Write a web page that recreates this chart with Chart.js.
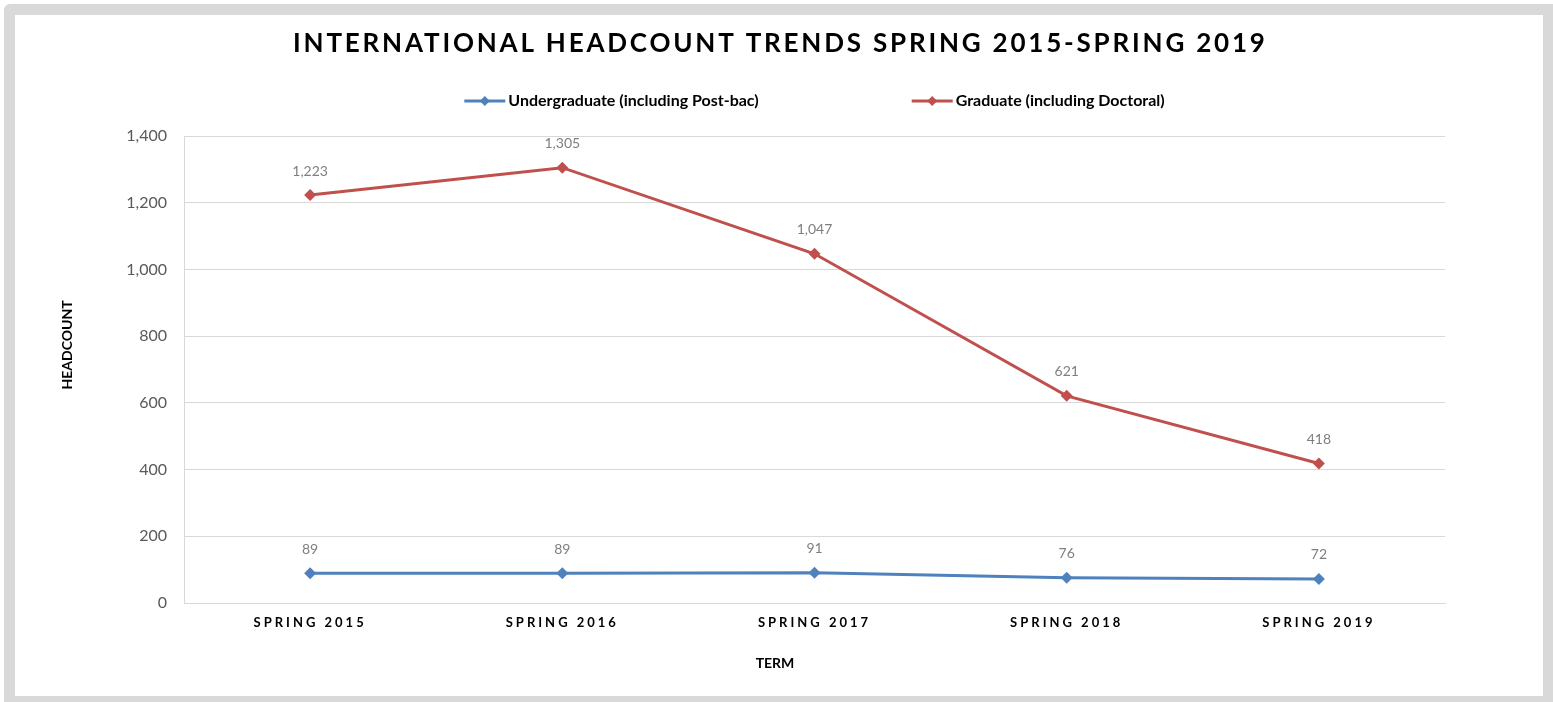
<!DOCTYPE html>
<html>
<head>
<meta charset="utf-8">
<title>International Headcount Trends</title>
<script src="https://cdn.jsdelivr.net/npm/chart.js@4.4.1/dist/chart.umd.min.js"></script>
<style>
  html, body { margin: 0; padding: 0; background: #fff; }
  #frame {
    position: absolute; left: 4px; top: 4px;
    width: 1528px; height: 681px;
    border-style: solid; border-color: #d9d9d9;
    border-width: 11px 10px 6px 11px;
    border-top-left-radius: 6px;
    background: #fff;
  }
  #wrap { position: relative; width: 1528px; height: 681px; }
</style>
</head>
<body>
<div id="frame"><div id="wrap"><canvas id="chart"></canvas></div></div>
<script>
// Data
const terms = ['SPRING 2015', 'SPRING 2016', 'SPRING 2017', 'SPRING 2018', 'SPRING 2019'];
const undergrad = [89, 89, 91, 76, 72];
const graduate = [1223, 1305, 1047, 621, 418];
const seriesNames = ['Undergraduate (including Post-bac)', 'Graduate (including Doctoral)'];
const chartTitle = 'INTERNATIONAL HEADCOUNT TRENDS SPRING 2015-SPRING 2019';
const yTitle = 'HEADCOUNT';
const xTitle = 'TERM';

const BLUE = '#4f81bd';
const RED = '#c0504d';
const FONT = 'Lato, "Open Sans", sans-serif';

function drawDiamond(ctx, x, y, r, color) {
  ctx.beginPath();
  ctx.moveTo(x, y - r);
  ctx.lineTo(x + r, y);
  ctx.lineTo(x, y + r);
  ctx.lineTo(x - r, y);
  ctx.closePath();
  ctx.fillStyle = color;
  ctx.fill();
}

// title, legend, axis titles, value labels, and letter-spaced x ticks
const decorations = {
  id: 'decorations',
  beforeDraw(chart) {
    const x = chart.scales.x;
    if (!x._spaced) {
      const orig = x.drawLabels;
      x.drawLabels = function(area) {
        this.ctx.save();
        this.ctx.letterSpacing = '3px';
        orig.call(this, area);
        this.ctx.restore();
      };
      x._spaced = true;
    }
  },
  afterDraw(chart) {
    const ctx = chart.ctx;
    const area = chart.chartArea;

    // Title
    ctx.save();
    ctx.font = 'bold 26px ' + FONT;
    ctx.letterSpacing = '2.8px';
    ctx.fillStyle = '#000';
    ctx.textAlign = 'center';
    ctx.textBaseline = 'middle';
    ctx.fillText(chartTitle, chart.width / 2 + 1.4, 29);
    ctx.restore();

    // Legend
    ctx.save();
    ctx.font = 'bold 16px ' + FONT;
    ctx.textBaseline = 'middle';
    ctx.textAlign = 'left';
    const lineW = 41, textGap = 3, itemGap = 153, ly = 86;
    const w0 = ctx.measureText(seriesNames[0]).width;
    const w1 = ctx.measureText(seriesNames[1]).width;
    const total = lineW + textGap + w0 + itemGap + lineW + textGap + w1;
    let lx = (area.left + area.right) / 2 - total / 2;
    [[seriesNames[0], BLUE, w0], [seriesNames[1], RED, w1]].forEach(([name, color, w]) => {
      ctx.strokeStyle = color;
      ctx.lineWidth = 3;
      ctx.beginPath();
      ctx.moveTo(lx, ly);
      ctx.lineTo(lx + lineW, ly);
      ctx.stroke();
      drawDiamond(ctx, lx + lineW / 2, ly, 5, color);
      ctx.fillStyle = '#000';
      ctx.fillText(name, lx + lineW + textGap, ly);
      lx += lineW + textGap + w + itemGap;
    });
    ctx.restore();

    // Axis titles
    ctx.save();
    ctx.font = 'bold 14px ' + FONT;
    ctx.fillStyle = '#000';
    ctx.textAlign = 'center';
    ctx.textBaseline = 'middle';
    ctx.fillText(xTitle, 760, 648);
    ctx.translate(52, 330);
    ctx.rotate(-Math.PI / 2);
    ctx.fillText(yTitle, 0, 0);
    ctx.restore();

    // Value labels
    ctx.save();
    ctx.font = '14px ' + FONT;
    ctx.fillStyle = '#7f7f7f';
    ctx.textAlign = 'center';
    ctx.textBaseline = 'middle';
    chart.data.datasets.forEach((ds, i) => {
      chart.getDatasetMeta(i).data.forEach((pt, j) => {
        ctx.fillText(ds.data[j].toLocaleString('en-US'), pt.x, pt.y - 24);
      });
    });
    ctx.restore();
  }
};

new Chart(document.getElementById('chart'), {
  type: 'line',
  data: {
    labels: terms,
    datasets: [
      {
        label: seriesNames[0],
        data: undergrad,
        borderColor: BLUE,
        backgroundColor: BLUE,
        borderWidth: 3,
        pointStyle: 'rectRot',
        pointRadius: 6,
        pointBorderWidth: 0,
        tension: 0
      },
      {
        label: seriesNames[1],
        data: graduate,
        borderColor: RED,
        backgroundColor: RED,
        borderWidth: 3,
        pointStyle: 'rectRot',
        pointRadius: 6,
        pointBorderWidth: 0,
        tension: 0
      }
    ]
  },
  options: {
    responsive: true,
    maintainAspectRatio: false,
    animation: false,
    layout: { padding: { top: 121, right: 98, bottom: 0, left: 0 } },
    plugins: {
      legend: { display: false },
      title: { display: false },
      tooltip: { enabled: false }
    },
    scales: {
      x: {
        offset: true,
        grid: { display: false, drawTicks: false },
        border: { display: true, color: '#d9d9d9', width: 1 },
        ticks: {
          color: '#000',
          font: { family: FONT, size: 13, weight: 'bold' },
          padding: 12,
          maxRotation: 0
        },
        afterFit(s) { s.height = 93; }
      },
      y: {
        min: 0,
        max: 1400,
        grid: { color: '#d9d9d9', drawTicks: false },
        border: { display: true, color: '#d9d9d9', width: 1 },
        ticks: {
          stepSize: 200,
          color: '#595959',
          font: { family: FONT, size: 16 },
          padding: 17,
          callback: v => v.toLocaleString('en-US')
        },
        afterFit(s) { s.width = 169; }
      }
    }
  },
  plugins: [decorations]
});
</script>
</body>
</html>
